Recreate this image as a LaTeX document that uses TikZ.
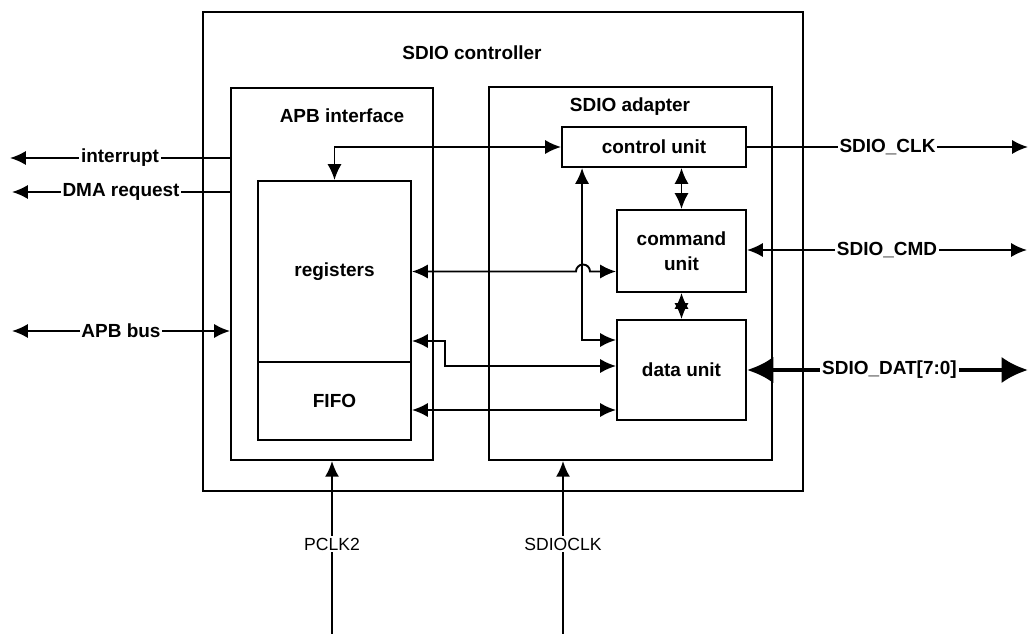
\documentclass[tikz,border=0pt]{standalone}
\usepackage{fontspec}
\setmainfont{Liberation Sans}
\usetikzlibrary{arrows.meta,positioning}

\begin{document}
\begin{tikzpicture}[x=0.02cm,y=-0.02cm,line width=1.1pt,
    font=\fontsize{10.8}{14.5}\selectfont\bfseries,
    box/.style={draw,rectangle,inner sep=0pt},
    sig/.style={fill=white,inner xsep=1pt,inner ysep=1pt},
    tip/.style={-{Latex[length=9pt,width=8pt]}},
    both/.style={{Latex[length=9pt,width=8pt]}-{Latex[length=9pt,width=8pt]}},
    bus/.style={line width=2.4pt,{Latex[length=15pt,width=15pt]}-{Latex[length=15pt,width=15pt]}}]
  \useasboundingbox (0,0) rectangle (1030,634);
  % blocks
  \node[box,minimum width=12cm,minimum height=9.58cm] (sdioctrl) at (503,251.5) {};
  \node[box,minimum width=4.04cm,minimum height=7.44cm] (apbif) at (332,274) {};
  \node[box,minimum width=5.66cm,minimum height=7.46cm] (adapter) at (630.5,273.5) {};
  \node[box,minimum width=3.06cm,minimum height=3.62cm] (regs) at (334.5,271.5) {registers};
  \node[box,minimum width=3.06cm,minimum height=1.56cm] (fifo) at (334.5,401) {FIFO};
  \node[box,minimum width=3.68cm,minimum height=0.8cm] (ctrl) at (654,147) {control unit};
  \node[box,minimum width=2.58cm,minimum height=1.64cm,align=center] (cmd) at (681.5,251) {command\\unit};
  \node[box,minimum width=2.58cm,minimum height=2.0cm] (data) at (681.5,370) {data unit};
  \node (ctrltitle) at (472,53) {SDIO controller};
  \node (apbtitle) at (342,116) {APB interface};
  \node (adtitle) at (630,107) {SDIO adapter};
  % outside signals
  \coordinate (irq) at (10,158);
  \coordinate (dmareq) at (12,192);
  \coordinate (apbbus) at (12,331);
  \coordinate (clkout) at (1028,147);
  \coordinate (cmdout) at (1027,250);
  \coordinate (datout) at (1028,370);
  \coordinate (pclk) at (332,634);
  \coordinate (sdioclk) at (563,634);
  \draw[tip] (apbif.west |- irq) -- node[sig]{interrupt} (irq);
  \draw[tip] (apbif.west |- dmareq) -- node[sig]{DMA request} (dmareq);
  \draw[both] (apbif.west |- apbbus) -- node[sig]{APB bus} (apbbus);
  \draw[tip] (ctrl.east) -- node[sig]{SDIO\_CLK} (clkout);
  \draw[both] (cmd.east |- cmdout) -- node[sig]{SDIO\_CMD} (cmdout);
  \draw[bus] (data.east) -- node[sig,xshift=0.04cm]{SDIO\_DAT[7:0]} (datout);
  \draw[tip] (pclk) -- node[sig,font=\mdseries,pos=0.52]{PCLK2} (apbif.south);
  \draw[tip] (sdioclk) -- node[sig,font=\mdseries,pos=0.52]{SDIOCLK} (sdioclk |- adapter.south);
  % inside links
  \coordinate (jog) at (445,341);
  \draw[both] (ctrl.west) -| (regs.north);
  \draw[both] (regs.east) -- (576,271.5) arc[start angle=180,end angle=0,radius=0.14cm]
    -- (cmd.west |- regs.east);
  \draw[both] ([xshift=0.42cm]ctrl.south west) |- ([yshift=0.6cm]data.west);
  \draw[both] (cmd.north) -- (cmd.north |- ctrl.south);
  \draw[both] (cmd.south) -- (data.north);
  \draw[both] (regs.east |- jog) -- (jog) |- ([yshift=0.08cm]data.west);
  \draw[both] ([yshift=-0.18cm]fifo.east) -- ([yshift=-0.18cm]fifo.east -| data.west);
\end{tikzpicture}
\end{document}
